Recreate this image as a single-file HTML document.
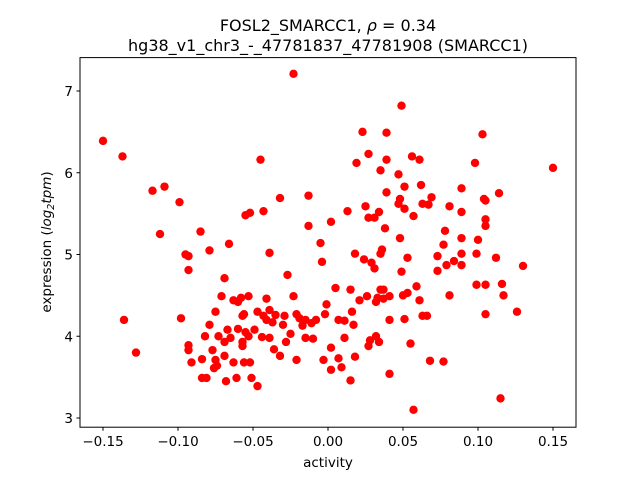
<!DOCTYPE html>
<html><head><meta charset="utf-8"><style>
body{margin:0;background:#fff;}
svg text{font-family:"DejaVu Sans","Liberation Sans",sans-serif;fill:#000;}
</style></head><body>
<svg id="chart" width="640" height="480" viewBox="0 0 640 480" xmlns="http://www.w3.org/2000/svg">
<rect width="640" height="480" fill="#fff"/>
<text x="328" y="31" font-size="16" text-anchor="middle">FOSL2_SMARCC1, <tspan font-style="italic">ρ</tspan> = 0.34</text>
<text x="328" y="51" font-size="16" text-anchor="middle">hg38_v1_chr3_-_47781837_47781908 (SMARCC1)</text>
<g id="points"></g>
<rect x="80" y="57.6" width="496" height="369.6" fill="none" stroke="#000" stroke-width="1"/>
<g id="xticks"></g>
<g id="yticks"></g>
<text x="328" y="467" font-size="13.5" text-anchor="middle">activity</text>
<text transform="translate(51,242) rotate(-90)" font-size="13.5" text-anchor="middle">expression (<tspan font-style="italic">log</tspan><tspan font-style="italic" font-size="9.5" dy="3">2</tspan><tspan font-style="italic" dy="-3">tpm</tspan>)</text>
</svg>
<script>
const xTicks=[-0.15,-0.10,-0.05,0.00,0.05,0.10,0.15];
const xTickLabels=["−0.15","−0.10","−0.05","0.00","0.05","0.10","0.15"];
const yTicks=[3,4,5,6,7];
const yTickLabels=["3","4","5","6","7"];
const activity=[-0.150,-0.137,-0.136,-0.128,-0.117,-0.109,-0.112,-0.099,-0.098,-0.095,-0.093,-0.093,-0.093,-0.093,-0.091,-0.085,-0.084,-0.084,-0.081,-0.082,-0.079,-0.079,-0.077,-0.076,-0.075,-0.075,-0.074,-0.073,-0.071,-0.069,-0.069,-0.069,-0.068,-0.066,-0.067,-0.065,-0.063,-0.063,-0.061,-0.060,-0.060,-0.058,-0.057,-0.057,-0.057,-0.056,-0.056,-0.055,-0.055,-0.053,-0.052,-0.053,-0.052,-0.051,-0.049,-0.047,-0.047,-0.045,-0.044,-0.043,-0.043,-0.041,-0.041,-0.039,-0.039,-0.039,-0.037,-0.036,-0.035,-0.032,-0.032,-0.030,-0.029,-0.028,-0.027,-0.025,-0.023,-0.023,-0.021,-0.021,-0.019,-0.017,-0.015,-0.015,-0.013,-0.013,-0.011,-0.010,-0.008,-0.005,-0.004,-0.002,-0.003,-0.001,0.002,0.002,0.002,0.005,0.007,0.007,0.009,0.011,0.011,0.013,0.015,0.015,0.016,0.017,0.018,0.018,0.019,0.021,0.023,0.024,0.025,0.026,0.027,0.027,0.027,0.028,0.029,0.031,0.031,0.032,0.032,0.033,0.034,0.034,0.035,0.035,0.035,0.036,0.037,0.037,0.038,0.039,0.039,0.039,0.041,0.041,0.041,0.047,0.047,0.048,0.048,0.049,0.049,0.050,0.051,0.051,0.051,0.053,0.053,0.055,0.056,0.057,0.057,0.059,0.061,0.061,0.062,0.063,0.063,0.066,0.067,0.068,0.069,0.073,0.073,0.077,0.077,0.078,0.079,0.081,0.081,0.084,0.089,0.089,0.089,0.089,0.089,0.098,0.099,0.099,0.100,0.103,0.104,0.105,0.105,0.105,0.105,0.105,0.112,0.114,0.115,0.116,0.117,0.126,0.130,0.150];
const expression=[6.39,6.20,4.20,3.80,5.78,5.83,5.25,5.64,4.22,5.00,4.98,4.81,3.89,3.83,3.68,5.28,3.72,3.49,3.49,4.00,4.14,5.05,3.83,3.61,3.71,4.30,3.64,4.00,4.49,4.71,3.93,3.76,3.45,5.13,4.08,3.98,4.44,3.68,3.49,4.09,4.42,4.47,4.25,3.88,3.93,3.68,4.27,4.05,5.48,4.49,5.51,4.00,3.68,3.49,4.08,3.39,4.30,6.16,3.99,4.25,5.53,4.46,4.20,5.02,4.32,3.98,4.17,3.84,4.26,5.69,3.76,4.14,4.25,3.93,4.75,4.03,7.21,4.49,3.71,4.27,4.22,4.13,4.20,3.98,5.35,5.72,4.16,3.97,4.20,5.14,4.91,4.27,3.71,4.39,5.40,3.86,3.59,4.59,3.73,4.20,3.62,3.98,4.19,5.53,3.46,4.57,4.30,4.14,5.01,3.75,6.12,4.44,6.50,4.94,5.59,4.49,6.23,5.45,3.88,3.95,4.90,5.45,4.83,4.42,4.00,4.47,5.52,3.93,4.57,5.01,6.03,5.06,4.57,4.46,5.32,5.76,6.16,6.49,4.49,4.20,3.54,5.62,5.98,5.68,5.20,4.79,6.82,4.50,4.21,5.83,5.56,4.96,4.53,3.91,6.20,3.10,5.47,4.61,6.16,4.44,5.85,5.62,4.25,4.25,5.61,3.70,5.70,4.98,4.80,3.69,5.12,5.29,4.87,4.50,5.59,4.92,5.81,5.52,5.20,5.01,4.87,6.12,4.63,5.01,5.18,6.47,5.68,5.43,5.35,5.66,4.63,4.27,4.96,5.75,3.24,4.64,4.50,4.30,4.86,6.06];

const NS="http://www.w3.org/2000/svg";
function xs(v){return 328+v*1500;}
function ys(v){return 418-(v-3)*81.75;}
const pg=document.getElementById('points');
for(let i=0;i<activity.length;i++){
  const c=document.createElementNS(NS,'circle');
  c.setAttribute('cx',xs(activity[i]));
  c.setAttribute('cy',ys(expression[i]));
  c.setAttribute('r',4.2);
  c.setAttribute('fill','#ff0000');
  
  
  pg.appendChild(c);
}
const xg=document.getElementById('xticks');
xTicks.forEach((t,i)=>{
  const x=xs(t);
  const l=document.createElementNS(NS,'line');
  l.setAttribute('x1',x);l.setAttribute('x2',x);l.setAttribute('y1',427.2);l.setAttribute('y2',430.7);
  l.setAttribute('stroke','#000');
  
  
  xg.appendChild(l);
  const tx=document.createElementNS(NS,'text');
  tx.setAttribute('x',x);tx.setAttribute('y',446);tx.setAttribute('font-size','13.5');tx.setAttribute('text-anchor','middle');
  tx.textContent=xTickLabels[i];
  
  
  xg.appendChild(tx);
});
const yg=document.getElementById('yticks');
yTicks.forEach((t,i)=>{
  const y=ys(t);
  const l=document.createElementNS(NS,'line');
  l.setAttribute('x1',76.5);l.setAttribute('x2',80);l.setAttribute('y1',y);l.setAttribute('y2',y);
  l.setAttribute('stroke','#000');
  
  
  yg.appendChild(l);
  const tx=document.createElementNS(NS,'text');
  tx.setAttribute('x',73);tx.setAttribute('y',y+5);tx.setAttribute('font-size','13.5');tx.setAttribute('text-anchor','end');
  tx.textContent=yTickLabels[i];
  
  
  yg.appendChild(tx);
});
</script>
</body></html>
